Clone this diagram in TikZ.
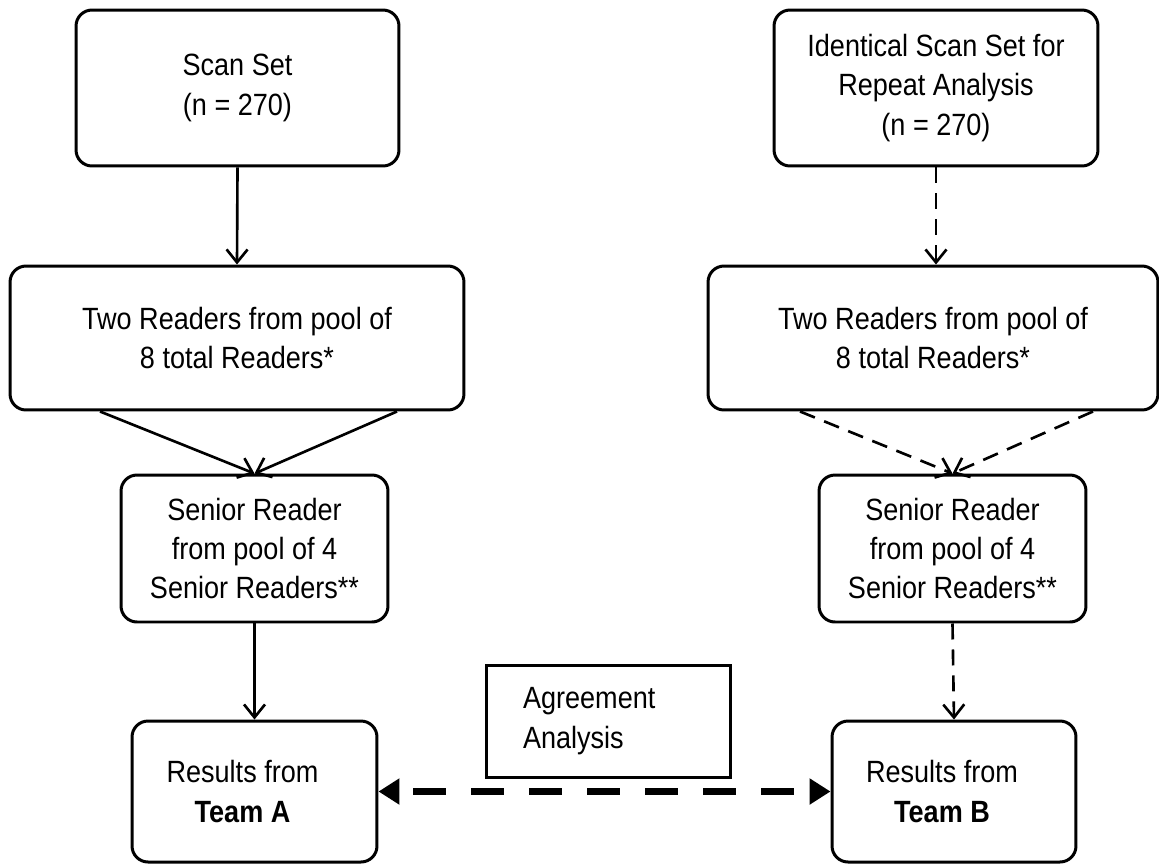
\documentclass[tikz,border=0pt]{standalone}
\usepackage{fontspec}
\setmainfont{Liberation Sans}[FakeStretch=0.88]
\usetikzlibrary{positioning, arrows.meta, calc, shapes}

\begin{document}
\begin{tikzpicture}[x=0.02cm, y=-0.02cm, semithick, font=\fontsize{17.5}{22.4}\selectfont,
  box/.style={draw, rounded corners=0.32cm, line width=0.06cm, align=center, inner sep=0pt},
  plainbox/.style={draw, line width=0.06cm, align=left, text width=3.42cm, inner xsep=0.74cm, inner ysep=0pt},
  flow/.style={-{Straight Barb[length=0.26cm,width=0.42cm]}, line width=1.5pt},
  repflow/.style={flow, dash pattern=on 0.32cm off 0.2cm},
  compare/.style={{Triangle[length=0.42cm,width=0.5cm]}-{Triangle[length=0.42cm,width=0.5cm]}, line width=0.14cm, dash pattern=on 0.66cm off 0.5cm, dash phase=-0.3cm},
]
  \useasboundingbox (0,0) rectangle (1159,863);

  % team A (first reading)
  \node[box, minimum width=6.46cm, minimum height=3.12cm] (scan) at (237.5,88) {Scan Set\\(n = 270)};
  \node[box, minimum width=9.08cm, minimum height=2.88cm] (readA) at (237,338) {Two Readers from pool of\\8 total Readers*};
  \node[box, minimum width=5.34cm, minimum height=2.94cm] (seniorA) at (254.5,548.5) {Senior Reader\\from pool of 4\\Senior Readers**};
  \node[box, minimum width=4.9cm, minimum height=2.82cm] (resA) at (254.5,791.5) {Results from\hspace*{0.48cm}\\\textbf{Team A}\hspace*{0.48cm}};

  % team B (repeat reading)
  \node[box, minimum width=6.48cm, minimum height=3.12cm] (rescan) at (936,88) {Identical Scan Set for\\Repeat Analysis\\(n = 270)};
  \node[box, minimum width=9.0cm, minimum height=2.88cm] (readB) at (933,338) {Two Readers from pool of\\8 total Readers*};
  \node[box, minimum width=5.34cm, minimum height=2.94cm] (seniorB) at (952.5,548.5) {Senior Reader\\from pool of 4\\Senior Readers**};
  \node[box, minimum width=4.88cm, minimum height=2.82cm] (resB) at (954,791.5) {Results from\hspace*{0.48cm}\\\textbf{Team B}\hspace*{0.48cm}};

  \node[plainbox, minimum width=4.9cm, minimum height=2.24cm] (agree) at (608.5,721) {Agreement\\Analysis};

  \path[flow]
    (scan.south) edge (readA.north)
    ([xshift=-2.74cm]readA.south) edge (seniorA.north)
    ([xshift=3.2cm]readA.south) edge (seniorA.north)
    (seniorA.south) edge (resA.north);
  \path[repflow]
    (rescan.south) edge (rescan.south |- readB.north)
    ([xshift=-2.66cm]readB.south) edge (seniorB.north)
    ([xshift=3.2cm]readB.south) edge (seniorB.north)
    (seniorB.south) edge (resB.north);
  \draw[compare] (resA.east) -- (resB.west);

\end{tikzpicture}
\end{document}
